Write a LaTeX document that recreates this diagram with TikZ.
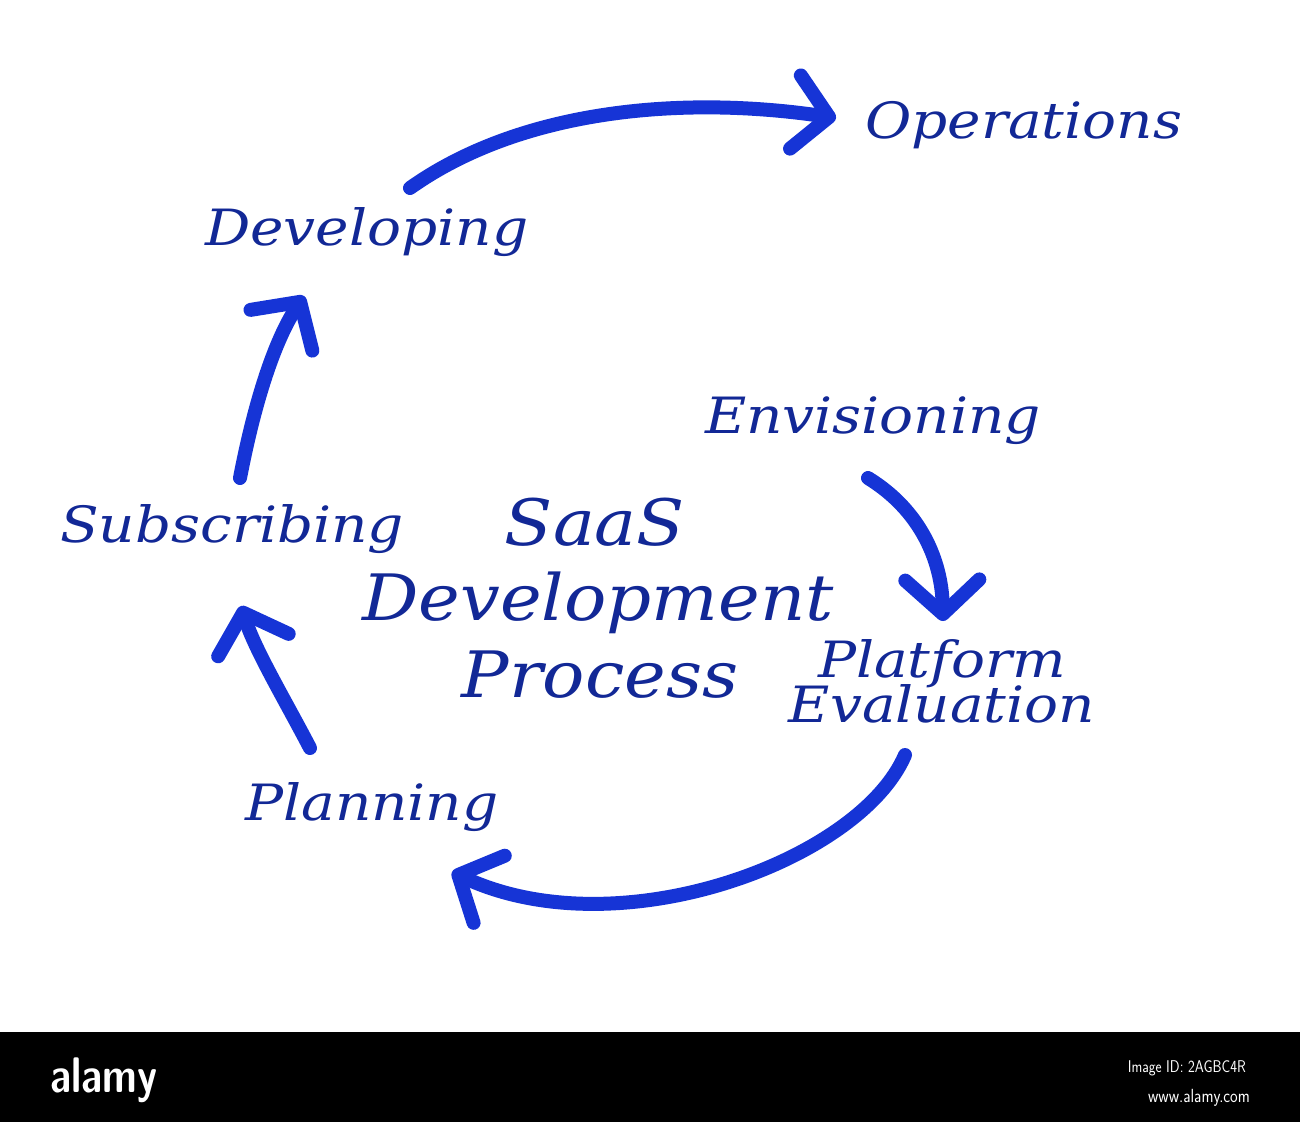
\documentclass[tikz,border=0pt]{standalone}
\usepackage{fontspec}
\usepackage{tikz}
\usetikzlibrary{arrows.meta}
\newfontfamily\handfont{DejaVu Serif}
\definecolor{inkblue}{RGB}{18,40,150}
\definecolor{penblue}{RGB}{22,52,214}
\tikzstyle{stage}=[inner sep=0pt,anchor=base west,text=inkblue,xscale=1.13,font=\handfont\itshape\fontsize{50}{56}\selectfont]
\tikzstyle{title}=[inner sep=0pt,anchor=base,text=inkblue,xscale=1.1,font=\handfont\itshape\fontsize{64}{70}\selectfont]
\tikzstyle{flow}=[draw=penblue,line width=14pt,line cap=round,line join=round,
  -{Straight Barb[length=34pt,width=74pt,round]}]

\begin{document}
\begin{tikzpicture}[x=1pt,y=-1pt]
  \useasboundingbox (0,0) rectangle (1300,1122);
  \fill[white] (0,0) rectangle (1300,1032);

  \node[stage] (ops) at (865,138) {Operations};
  \node[stage] (dev) at (205,245) {Developing};
  \node[stage] (env) at (705,433) {Envisioning};
  \node[stage] (sub) at (60,542) {Subscribing};
  \node[stage] (plan) at (245,820) {Planning};
  \node[stage,anchor=base] (pe1) at (942,677) {Platform};
  \node[stage,anchor=base] (pe2) at (942,722) {Evaluation};

  \node[title] (t1) at (595,545) {SaaS};
  \node[title] (t2) at (598,620) {Development};
  \node[title] (t3) at (600,697) {Process};

  \coordinate (s1) at (410,188);  \coordinate (e1) at (836,118);
  \coordinate (s2) at (240,478);  \coordinate (e2) at (304,296);
  \coordinate (s3) at (310,748);  \coordinate (e3) at (241,606);
  \coordinate (s4) at (905,755);  \coordinate (e4) at (452,872);
  \coordinate (s5) at (868,478);  \coordinate (e5) at (943,621);

  \draw[flow] (s1) .. controls (520,110) and (680,95) .. (e1);
  \draw[flow] (s2) .. controls (255,400) and (275,340) .. (e2);
  \draw[flow] (s3) .. controls (285,700) and (255,650) .. (e3);
  \draw[flow] (s4) .. controls (860,860) and (620,950) .. (e4);
  \draw[flow] (s5) .. controls (920,510) and (942,560) .. (e5);

  % banner
  \fill[black] (0,1032) rectangle (1300,1122);
  \node[inner sep=0pt,anchor=base west,text=white,font=\sffamily\bfseries\fontsize{50}{54}\selectfont,xscale=0.8] (logo) at (50,1092) {alamy};
  \node[inner sep=0pt,anchor=base east,text=white,font=\sffamily\fontsize{17}{20}\selectfont,xscale=0.85] (imgid) at (1246,1072) {Image ID: 2AGBC4R};
  \node[inner sep=0pt,anchor=base east,text=white,font=\sffamily\fontsize{19}{22}\selectfont,xscale=0.85] (url) at (1250,1102) {www.alamy.com};
\end{tikzpicture}
\end{document}
